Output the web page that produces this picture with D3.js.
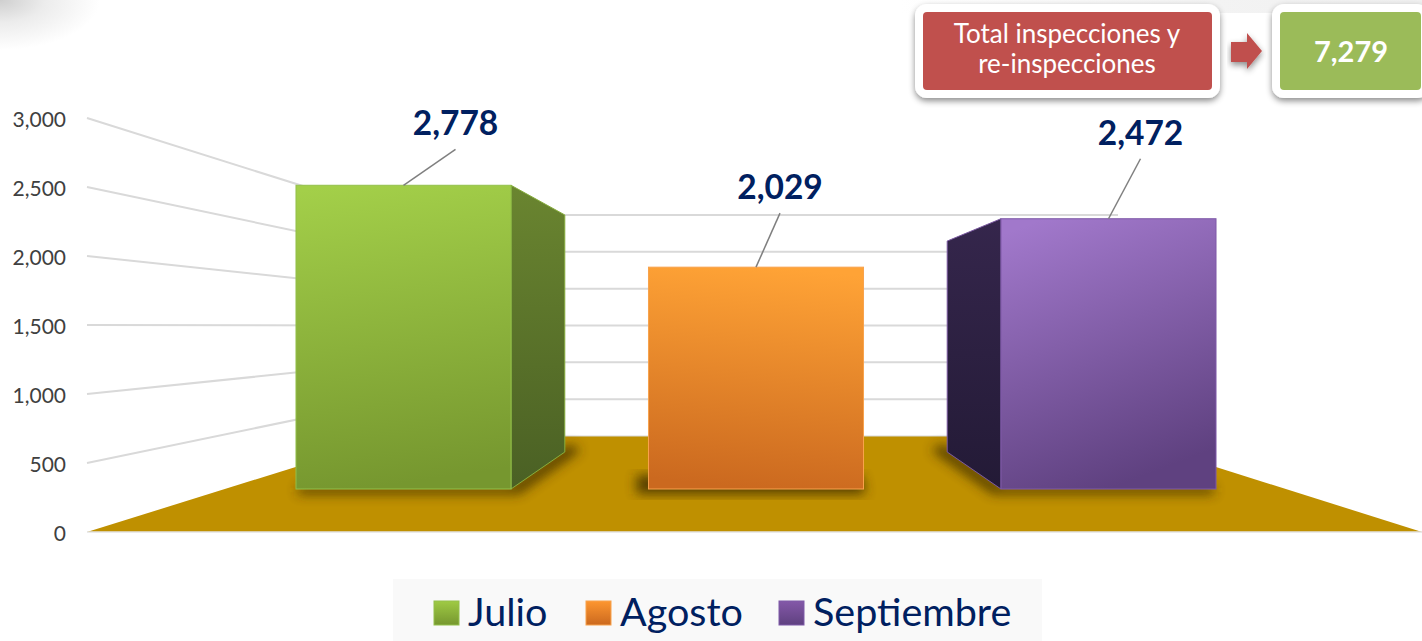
<!DOCTYPE html>
<html>
<head>
<meta charset="utf-8">
<script src="https://cdn.jsdelivr.net/npm/d3@7"></script>
<style>
  html, body { margin: 0; padding: 0; background: #fff; overflow: hidden; }
  svg { display: block; font-family: Lato, "Open Sans", sans-serif; }
</style>
</head>
<body>
<div class="d3"></div>
<script>
const months = ["Julio", "Agosto", "Septiembre"];
const inspections = [2778, 2029, 2472];
const yTicks = [0, 500, 1000, 1500, 2000, 2500, 3000];

function main() {
    const width = 1422, height = 641;
    const fmt = d3.format(",");
    const svg = d3.select(".d3").append("svg")
        .attr("width", width)
        .attr("height", height);
    const defs = svg.append("defs");

    // one y scale per depth plane of the fake 3d box
    const yAxisPlane = d3.scaleLinear().domain([0, 3000]).range([532, 118]);
    const yFront = d3.scaleLinear().domain([0, 3000]).range([489, 161]);
    const ySide = d3.scaleLinear().domain([0, 3000]).range([452, 196]);
    const yBack = d3.scaleLinear().domain([0, 3000]).range([436, 215]);

    const x = d3.scaleBand().domain(months).range([227.25, 1284.75])
        .paddingInner(0.39).paddingOuter(0.195);
    // front x -> x at the back of the bar
    const xDepth = d3.scaleLinear().domain([296, 1216]).range([397, 1115]);

    const wallLeft = 395, wallRight = 1118, axisLeft = 87, axisRight = 1422;

    function gradient(id, top, bottom, x1, x2) {
        const g = defs.append("linearGradient").attr("id", id)
            .attr("x1", x1 || 0).attr("y1", 0).attr("x2", x2 || 0).attr("y2", 1);
        g.append("stop").attr("offset", "0%").attr("stop-color", top);
        g.append("stop").attr("offset", "100%").attr("stop-color", bottom);
    }
    gradient("front0", "#a3cf49", "#76972f", 0.2, 0.3);
    gradient("front1", "#ffa336", "#cb691f", 0.6, 0.5);
    gradient("front2", "#a178cb", "#5f4180", 0.2, 0.5);
    gradient("legend0", "#9fca44", "#76972f");
    gradient("legend1", "#fd9630", "#cb691f");
    gradient("legend2", "#8458a8", "#5f4180");
    gradient("side0", "#6a8530", "#4a6024");
    gradient("side2", "#35264c", "#231a36");

    const corner = defs.append("radialGradient").attr("id", "corner")
        .attr("gradientUnits", "userSpaceOnUse")
        .attr("cx", 0).attr("cy", 0).attr("r", 100)
        .attr("gradientTransform", "scale(1,0.5)");
    corner.append("stop").attr("offset", "0%").attr("stop-color", "#cfcfcf");
    corner.append("stop").attr("offset", "45%").attr("stop-color", "#ececec");
    corner.append("stop").attr("offset", "100%").attr("stop-color", "#fff");

    const band = defs.append("linearGradient").attr("id", "band");
    band.append("stop").attr("offset", "0%").attr("stop-color", "#fff");
    band.append("stop").attr("offset", "60%").attr("stop-color", "#f3f3f3");
    band.append("stop").attr("offset", "100%").attr("stop-color", "#f0f0f0");

    defs.append("filter").attr("id", "blur")
        .attr("x", "-20%").attr("y", "-30%").attr("width", "140%").attr("height", "160%")
        .append("feGaussianBlur").attr("stdDeviation", 6);
    const drop = defs.append("filter").attr("id", "drop")
        .attr("x", "-10%").attr("y", "-20%").attr("width", "120%").attr("height", "150%");
    drop.append("feDropShadow").attr("dx", 0).attr("dy", 3).attr("stdDeviation", 3)
        .attr("flood-color", "#000").attr("flood-opacity", 0.45);

    // background bits
    svg.append("rect").attr("width", 110).attr("height", 60).attr("fill", "url(#corner)");
    svg.append("rect").attr("x", 900).attr("width", 522).attr("height", 13).attr("fill", "url(#band)");

    // floor
    const line = d3.line();
    svg.append("path")
        .attr("d", line([[axisLeft, yAxisPlane(0)], [wallLeft, yBack(0)], [wallRight, yBack(0)], [axisRight, yAxisPlane(0)]]) + "Z")
        .attr("fill", "#bf9000");
    svg.append("line")
        .attr("x1", axisLeft).attr("x2", axisRight)
        .attr("y1", yAxisPlane(0)).attr("y2", yAxisPlane(0))
        .attr("stroke", "#e3e3e3").attr("stroke-width", 1.5);
    svg.append("line")
        .attr("x1", wallLeft).attr("x2", wallRight)
        .attr("y1", yBack(0)).attr("y2", yBack(0))
        .attr("stroke", "#d9d9d9").attr("stroke-width", 1);

    // gridlines, left wall then back wall
    const grid = svg.append("g").attr("fill", "none").attr("stroke", "#d9d9d9").attr("stroke-width", 2);
    yTicks.filter(t => t > 0).forEach(t => {
        grid.append("path").attr("d", line([[axisLeft, yAxisPlane(t)], [wallLeft, yBack(t)], [wallRight, yBack(t)]]));
    });

    // axis labels
    const axis = d3.axisLeft(yAxisPlane).tickValues(yTicks).tickSize(0).tickPadding(0).tickFormat(fmt);
    const axisG = svg.append("g").attr("transform", "translate(66,2)").call(axis);
    axisG.select(".domain").remove();
    axisG.selectAll("text")
        .attr("font-family", "Lato, sans-serif")
        .attr("font-size", 21)
        .attr("fill", "#404040");

    // bars
    const sideStroke = ["#86ad3c", null, "#7a58a0"];
    const frontStroke = ["#93c04a", "#f8a24c", "#7f5aa8"];
    months.forEach((m, i) => {
        const v = inspections[i];
        const x0 = x(m), x1 = x0 + x.bandwidth();
        // side face only shows when the bar sits off to one side
        const near = i === 0 ? x1 : x0;
        const far = xDepth(near);
        const hasSide = i !== 1;

        let shadowPts;
        if (hasSide) {
            shadowPts = i === 0
                ? [[x0 + 2, yFront(0) - 3], [x1, yFront(0) - 3], [far + 4, ySide(0) - 8], [far + 16, ySide(0) - 2], [x1 + 8, yFront(0) + 5], [x0 + 2, yFront(0) + 5]]
                : [[x1 - 2, yFront(0) - 3], [x0, yFront(0) - 3], [far - 4, ySide(0) - 8], [far - 16, ySide(0) - 2], [x0 - 8, yFront(0) + 5], [x1 - 2, yFront(0) + 5]];
        } else {
            shadowPts = [[x0 - 12, yFront(0) - 14], [x1 - 2, yFront(0) - 14], [x1 + 2, yFront(0) + 5], [x0 - 12, yFront(0) + 5]];
        }
        svg.append("path").attr("d", line(shadowPts) + "Z")
            .attr("fill", "#3a2c00").attr("opacity", 0.8).attr("filter", "url(#blur)");

        if (hasSide) {
            svg.append("path")
                .attr("d", line([[near, yFront(v)], [far, ySide(v)], [far, ySide(0)], [near, yFront(0)]]) + "Z")
                .attr("fill", "url(#side" + i + ")")
                .attr("stroke", sideStroke[i]).attr("stroke-width", 1);
        }
        svg.append("rect")
            .attr("x", x0).attr("y", yFront(v))
            .attr("width", x.bandwidth()).attr("height", yFront(0) - yFront(v))
            .attr("fill", "url(#front" + i + ")")
            .attr("stroke", frontStroke[i]).attr("stroke-width", 1);
    });

    // value labels with leader lines
    const labelDx = [52, 24, 32], labelDy = [36, 54, 60];
    months.forEach((m, i) => {
        const cx = x(m) + x.bandwidth() / 2;
        const y0 = yFront(inspections[i]);
        svg.append("line")
            .attr("x1", cx).attr("y1", y0)
            .attr("x2", cx + labelDx[i]).attr("y2", y0 - labelDy[i])
            .attr("stroke", "#7f7f7f").attr("stroke-width", 1.5);
        svg.append("text")
            .attr("x", cx + labelDx[i]).attr("y", y0 - labelDy[i] - 14)
            .attr("text-anchor", "middle")
            .attr("font-size", 33.5).attr("font-weight", 700)
            .attr("fill", "#002060")
            .text(fmt(inspections[i]));
    });

    // total boxes
    function box(bx, by, bw, bh, fill) {
        svg.append("rect").attr("x", bx - 8).attr("y", by - 8)
            .attr("width", bw + 16).attr("height", bh + 16).attr("rx", 12)
            .attr("fill", "#fff").attr("filter", "url(#drop)");
        svg.append("rect").attr("x", bx).attr("y", by)
            .attr("width", bw).attr("height", bh).attr("rx", 4).attr("fill", fill);
    }
    box(923, 12, 289, 78, "#c0504d");
    box(1280, 12, 141, 78, "#9bbb59");
    svg.append("text").attr("x", 1067).attr("y", 43).attr("text-anchor", "middle")
        .attr("font-size", 26).attr("fill", "#fff").text("Total inspecciones y");
    svg.append("text").attr("x", 1067).attr("y", 73).attr("text-anchor", "middle")
        .attr("font-size", 26).attr("fill", "#fff").text("re-inspecciones");
    svg.append("path")
        .attr("d", line([[1231, 42], [1247, 42], [1247, 33], [1262, 51], [1247, 69], [1247, 62], [1231, 62]]) + "Z")
        .attr("fill", "#c0504d").attr("filter", "url(#drop)");
    svg.append("text").attr("x", 1351).attr("y", 62).attr("text-anchor", "middle")
        .attr("font-size", 29).attr("font-weight", 700).attr("fill", "#fff")
        .text(fmt(d3.sum(inspections)));

    // legend
    svg.append("rect").attr("x", 393).attr("y", 579).attr("width", 649).attr("height", 62).attr("fill", "#f9f9f9");
    const legendX = d3.scaleOrdinal().domain(months).range([434, 586, 779]);
    months.forEach((m, i) => {
        svg.append("rect")
            .attr("x", legendX(m)).attr("y", 601).attr("width", 25).attr("height", 24)
            .attr("fill", "url(#legend" + i + ")")
            .attr("stroke", frontStroke[i]).attr("stroke-width", 1);
        svg.append("text")
            .attr("x", legendX(m) + 34).attr("y", 626)
            .attr("font-size", 39.5).attr("fill", "#002060")
            .text(m);
    });
}
main();
</script>
</body>
</html>
